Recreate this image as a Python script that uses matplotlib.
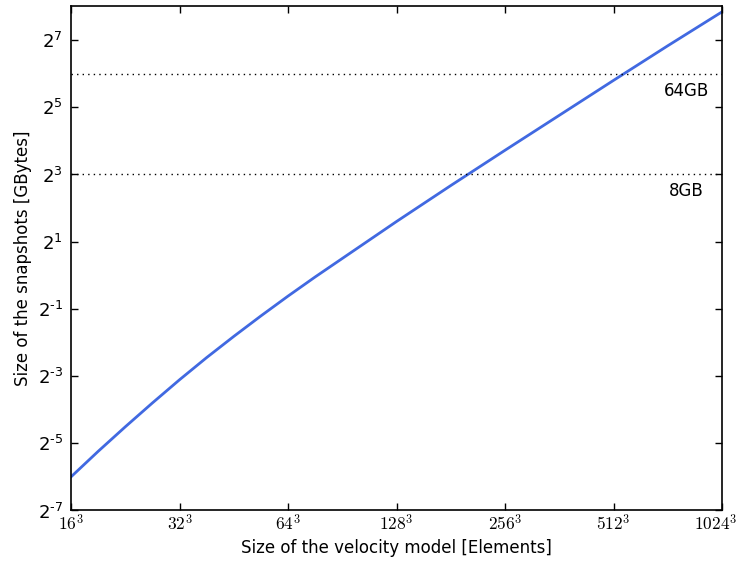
import matplotlib
matplotlib.use("Agg")
import matplotlib.pyplot as plt
import matplotlib.transforms as mtransforms
import numpy as np

# velocity model edge length (model has edge**3 elements)
edge = [16, 19.03, 22.63, 26.91, 32, 38.05, 45.25, 53.82, 64, 76.11,
        90.51, 128, 181.02, 256, 362.04, 512, 724.08, 1024]
# snapshot size in GBytes
snapshot_gb = [0.01563, 0.02646, 0.04389, 0.07179, 0.1158, 0.1830, 0.2832,
               0.4323, 0.6507, 0.9659, 1.414, 3.031, 6.364, 13.18, 27.10,
               55.72, 113.8, 229.1]

limits_gb = [64, 8]
limit_labels = ["64GB", "8GB"]

x_tick_edges = [16, 32, 64, 128, 256, 512, 1024]
y_tick_exps = [-7, -5, -3, -1, 1, 3, 5, 7]

plt.rcParams["font.size"] = 12

fig = plt.figure(figsize=(7.39, 5.63), dpi=100)
ax = fig.add_axes([0.0961, 0.0933, 0.8809, 0.8952])

elements = np.array(edge) ** 3
ax.plot(elements, snapshot_gb, color="#4169E1", lw=2)

for gb, lab in zip(limits_gb, limit_labels):
    ax.axhline(gb, color="black", ls=(0, (1, 3)), lw=1)
    ax.text(0.9455, gb / 1.42, lab, transform=ax.get_yaxis_transform(),
            ha="center", va="center", fontsize=12)

ax.set_xscale("log", base=2)
ax.set_yscale("log", base=2)
ax.set_xlim(16 ** 3, 1024 ** 3)
ax.set_ylim(2.0 ** -7, 2.0 ** 8)

ax.set_xticks([e ** 3 for e in x_tick_edges])
ax.set_xticklabels([r"$%d^3$" % e for e in x_tick_edges])

ax.set_yticks([2.0 ** e for e in y_tick_exps])
ax.set_yticklabels([r"$\mathdefault{2^{%s}}$" % str(e).replace("-", "\u2010")
                    for e in y_tick_exps])
ax.minorticks_off()

ax.tick_params(direction="in", top=True, right=True, length=5, width=1)
ax.tick_params(axis="x", pad=3)
ax.tick_params(axis="y", pad=6, labelsize=13)
for s in ax.spines.values():
    s.set_linewidth(1.2)

xlabels = ax.get_xticklabels()
for t in xlabels:
    t.set_math_fontfamily("cm")
    t.set_fontsize(12.5)
# keep the last label inside the figure
shift = mtransforms.ScaledTranslation(-6 / 100, 0, fig.dpi_scale_trans)
xlabels[-1].set_transform(xlabels[-1].get_transform() + shift)

ax.set_xlabel("Size of the velocity model [Elements]", labelpad=3)
ax.set_ylabel("Size of the snapshots [GBytes]", labelpad=4)

fig.savefig("out.png", dpi=100)
